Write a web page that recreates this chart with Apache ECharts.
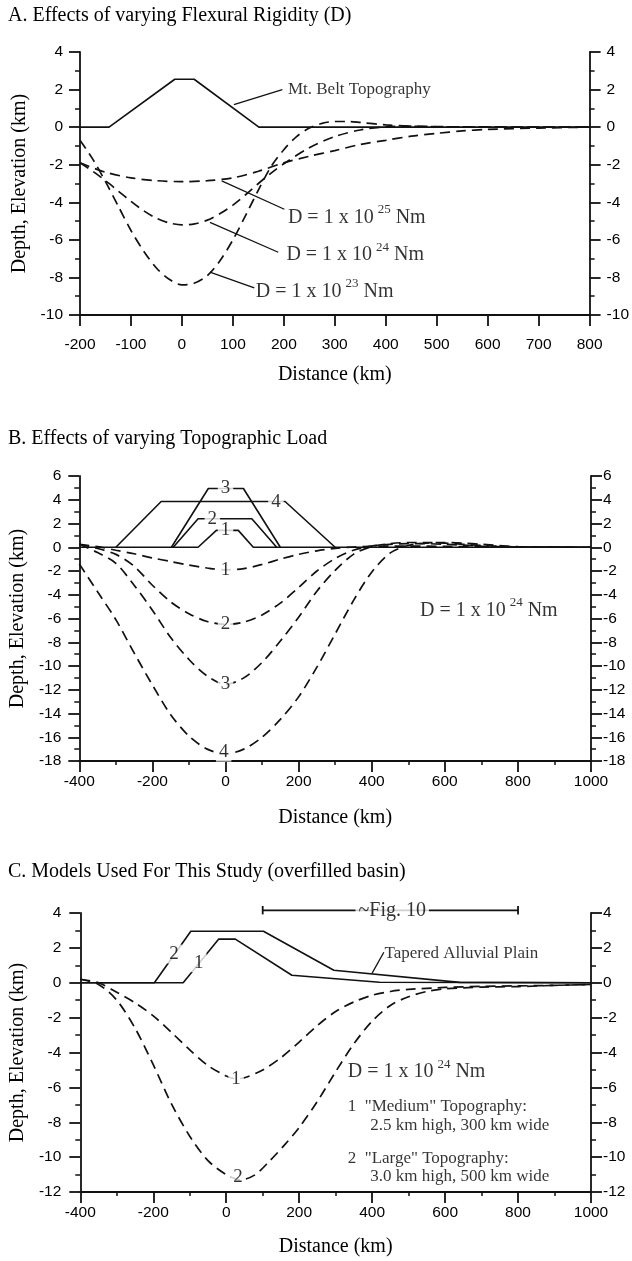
<!DOCTYPE html>
<html>
<head>
<meta charset="utf-8">
<title>Flexure models</title>
<style>
  * { margin: 0; padding: 0; }
  #chart-container { width: 632px; height: 1261px; background: #fff; }
</style>
</head>
<body>
<div id="chart-container"></div>
<script src="https://cdn.jsdelivr.net/npm/echarts@6/dist/echarts.min.js"></script>
<script>
// ---- panel A: flexural rigidity (x km, y km)
var topoA = [[-200, 0], [-143, 0], [-14, 2.55], [24, 2.55], [151, 0], [800, 0]];
var d25 = [[-200, -1.9], [-150, -2.4], [-100, -2.7], [-50, -2.85], [0, -2.9], [50, -2.85], [100, -2.7], [150, -2.35], [200, -1.9], [250, -1.55], [300, -1.25], [350, -0.92], [400, -0.7], [450, -0.48], [500, -0.33], [550, -0.2], [600, -0.12], [700, -0.05], [800, 0]];
var d24 = [[-200, -1.9], [-175, -2.35], [-150, -2.85], [-125, -3.4], [-100, -3.95], [-75, -4.45], [-50, -4.85], [-25, -5.1], [0, -5.2], [25, -5.15], [50, -4.95], [75, -4.6], [100, -4.15], [125, -3.6], [150, -3.0], [175, -2.45], [200, -1.95], [250, -1.1], [300, -0.5], [350, -0.15], [400, 0.02], [450, 0.05], [500, 0.03], [600, 0], [800, 0]];
var d23 = [[-200, -0.7], [-175, -1.7], [-150, -2.9], [-125, -4.2], [-100, -5.5], [-75, -6.6], [-50, -7.5], [-25, -8.1], [0, -8.4], [25, -8.3], [50, -7.9], [75, -7.1], [100, -6.0], [125, -4.7], [150, -3.35], [175, -2.1], [200, -1.2], [225, -0.5], [250, -0.05], [275, 0.2], [300, 0.3], [325, 0.3], [350, 0.25], [400, 0.12], [450, 0.05], [500, 0.02], [800, 0]];

// ---- panel B: topographic load
var load1 = [[-400, 0], [-75, 0], [-25, 1.42], [35, 1.42], [76, 0], [1000, 0]];
var load2 = [[-143, 0], [-75, 2.4], [72, 2.4], [140, 0]];
var load3 = [[-148, 0], [-47, 4.95], [49, 4.95], [150, 0]];
var load4 = [[-300, 0], [-176, 3.85], [163, 3.85], [300, 0]];
var defl1 = [[-400, 0.25], [-350, 0.05], [-300, -0.25], [-250, -0.55], [-200, -0.9], [-150, -1.2], [-100, -1.5], [-50, -1.75], [0, -1.9], [50, -1.8], [100, -1.45], [150, -1.0], [200, -0.6], [250, -0.3], [300, -0.1], [350, 0.02], [400, 0.08], [500, 0.1], [600, 0.07], [700, 0.03], [800, 0], [1000, 0]];
var defl2 = [[-400, 0.25], [-350, -0.1], [-300, -0.6], [-250, -1.6], [-200, -3.2], [-150, -4.6], [-100, -5.6], [-50, -6.25], [0, -6.5], [50, -6.3], [100, -5.7], [150, -4.7], [200, -3.4], [250, -2.0], [300, -0.95], [350, -0.25], [400, 0.1], [450, 0.25], [500, 0.3], [550, 0.3], [600, 0.25], [700, 0.1], [800, 0.02], [1000, 0]];
var defl3 = [[-400, 0.25], [-350, -0.45], [-300, -1.35], [-250, -3.2], [-200, -5.3], [-150, -7.6], [-100, -9.45], [-50, -10.85], [0, -11.55], [50, -11.0], [100, -9.7], [150, -7.9], [200, -5.9], [250, -3.7], [300, -1.95], [350, -0.6], [400, 0.05], [450, 0.3], [500, 0.4], [550, 0.4], [600, 0.35], [700, 0.15], [800, 0.03], [1000, 0]];
var defl4 = [[-400, -1.4], [-350, -3.75], [-300, -6.1], [-250, -8.9], [-200, -11.6], [-150, -14.1], [-100, -15.9], [-50, -17.0], [0, -17.4], [50, -17.0], [100, -16.0], [150, -14.5], [200, -12.6], [250, -10.1], [300, -7.3], [350, -4.5], [400, -2.1], [450, -0.5], [500, 0.15], [550, 0.35], [600, 0.4], [650, 0.35], [700, 0.25], [800, 0.05], [1000, 0]];

// ---- panel C: models used (overfilled basin)
var topoMed = [[-400, 0], [-118, 0], [-21, 2.5], [25, 2.5], [180, 0.43], [420, 0.03], [1000, 0]];
var topoLarge = [[-400, 0], [-197, 0], [-97, 2.95], [102, 2.95], [295, 0.72], [640, 0.02], [1000, 0]];
var deflMed = [[-400, 0.2], [-350, 0.0], [-300, -0.55], [-250, -1.15], [-200, -1.9], [-150, -2.85], [-100, -3.85], [-50, -4.75], [0, -5.35], [25, -5.5], [50, -5.45], [100, -5.0], [150, -4.3], [200, -3.4], [250, -2.45], [300, -1.65], [350, -1.1], [400, -0.72], [450, -0.5], [500, -0.38], [600, -0.27], [700, -0.21], [800, -0.18], [900, -0.15], [1000, -0.1]];
var deflLarge = [[-400, 0.2], [-350, -0.1], [-300, -1.0], [-250, -2.6], [-200, -4.7], [-150, -6.95], [-100, -8.8], [-50, -10.2], [0, -11.0], [40, -11.3], [80, -11.0], [120, -10.2], [160, -9.3], [200, -8.3], [250, -6.8], [300, -5.1], [350, -3.5], [400, -2.2], [450, -1.3], [500, -0.8], [550, -0.5], [600, -0.35], [700, -0.25], [800, -0.22], [900, -0.15], [1000, -0.1]];
var fig10 = [[100, 4.15], [800, 4.15]];

var SERIF = 'Liberation Serif';
var SANS = 'Liberation Sans';
var INK = '#111';

var dom = document.getElementById('chart-container');
var myChart = echarts.init(dom, null, { renderer: 'canvas' });

function plain(v) { return String(v); }

function xAx(g, min, max, step, minor, margin, gap) {
  return {
    type: 'value', gridIndex: g, min: min, max: max, interval: step,
    name: 'Distance (km)', nameLocation: 'middle', nameGap: gap,
    nameTextStyle: { fontFamily: SERIF, fontSize: 20, color: '#000' },
    axisLine: { show: true, onZero: false, lineStyle: { color: INK, width: 2 } },
    axisTick: { show: true, length: 11, lineStyle: { color: INK, width: 1.8 } },
    minorTick: { show: minor, splitNumber: 2, length: 4, lineStyle: { color: INK, width: 1.5 } },
    axisLabel: { margin: margin, fontFamily: SANS, fontSize: 15.5, color: '#000', formatter: plain },
    splitLine: { show: false }
  };
}

function yAx(g, min, max, pos, margin, gap) {
  var a = {
    type: 'value', gridIndex: g, min: min, max: max, interval: 2, position: pos,
    axisLine: { show: true, onZero: false, lineStyle: { color: INK, width: 1.8 } },
    axisTick: { show: true, length: 11, lineStyle: { color: INK, width: 1.8 } },
    minorTick: { show: true, splitNumber: 2, length: 5, lineStyle: { color: INK, width: 1.5 } },
    axisLabel: { margin: margin, fontFamily: SANS, fontSize: 15.5, color: '#000', formatter: plain },
    splitLine: { show: false }
  };
  if (pos === 'left') {
    a.name = 'Depth, Elevation (km)';
    a.nameLocation = 'middle';
    a.nameGap = gap;
    a.nameTextStyle = { fontFamily: SERIF, fontSize: 20, color: '#000' };
  }
  return a;
}

function solid(g, data, w) {
  return { type: 'line', xAxisIndex: g, yAxisIndex: g * 2, data: data, symbol: 'none',
    clip: false, silent: true, z: 3, lineStyle: { color: INK, width: w || 1.6 } };
}

function dashed(g, data) {
  return { type: 'line', xAxisIndex: g, yAxisIndex: g * 2, data: data, symbol: 'none',
    smooth: 0.3, silent: true, z: 2, lineStyle: { color: INK, width: 1.7, type: [10, 6] } };
}

var rich = {
  t: { fontFamily: SERIF, fontSize: 20, color: '#000', lineHeight: 28 },
  s: { fontFamily: SERIF, fontSize: 13, color: '#000', lineHeight: 28, verticalAlign: 'top', padding: [0, 0, 0, 4] }
};

function note(g, pt, text, size, pos, bg) {
  return {
    type: 'scatter', xAxisIndex: g, yAxisIndex: g * 2, data: [pt], symbolSize: 0,
    clip: false, silent: true, z: 6,
    itemStyle: { color: 'rgba(0,0,0,0)' },
    label: {
      show: true, position: pos || 'right', distance: 0,
      formatter: function () { return text; },
      fontFamily: SERIF, fontSize: size || 18, color: '#000',
      backgroundColor: bg ? '#fff' : 'transparent', padding: bg ? [0, 3] : 0,
      rich: rich
    }
  };
}

function rig(e) { return '{t|D = 1 x 10}{s|' + e + '}{t| Nm}'; }

var titleFont = { fontFamily: SERIF, fontSize: 20, fontWeight: 'normal', color: '#000' };

var option = {
  animation: false,
  backgroundColor: '#fff',
  title: [
    { text: 'A. Effects of varying Flexural Rigidity (D)', left: 8, top: 6, padding: 0, textStyle: titleFont },
    { text: 'B. Effects of varying Topographic Load', left: 8, top: 429, padding: 0, textStyle: titleFont },
    { text: 'C. Models Used For This Study (overfilled basin)', left: 8, top: 862, padding: 0, textStyle: titleFont }
  ],
  grid: [
    { left: 80, top: 52, width: 510, height: 263 },
    { left: 78, top: 476, width: 513, height: 285 },
    { left: 78, top: 913, width: 513, height: 279 }
  ],
  xAxis: [
    xAx(0, -200, 800, 100, false, 22, 50),
    xAx(1, -400, 1000, 200, true, 13, 47),
    xAx(2, -400, 1000, 200, true, 13, 45)
  ],
  yAxis: [
    yAx(0, -10, 4, 'left', 17, 46),
    yAx(0, -10, 4, 'right', 17),
    yAx(1, -18, 6, 'left', 18, 50),
    yAx(1, -18, 6, 'right', 12),
    yAx(2, -12, 4, 'left', 19, 50),
    yAx(2, -12, 4, 'right', 12)
  ],
  series: [
    // A
    solid(0, topoA),
    dashed(0, d25),
    dashed(0, d24),
    dashed(0, d23),
    solid(0, [[102, 1.2], [197, 2.0]], 1.3),
    solid(0, [[78, -2.86], [201, -4.37]], 1.3),
    solid(0, [[55, -5.07], [189, -6.66]], 1.3),
    solid(0, [[55, -7.72], [142, -8.56]], 1.3),
    note(0, [208, 2.0], 'Mt. Belt Topography', 17),
    note(0, [208, -4.8], rig(25)),
    note(0, [205, -6.8], rig(24)),
    note(0, [145, -8.75], rig(23)),
    // B
    solid(1, load1),
    solid(1, load2),
    solid(1, load3),
    solid(1, load4),
    dashed(1, defl1),
    dashed(1, defl2),
    dashed(1, defl3),
    dashed(1, defl4),
    note(1, [0, 4.95], '3', 19, 'inside', true),
    note(1, [138, 3.85], '4', 19, 'inside', true),
    note(1, [-36, 2.4], '2', 19, 'inside', true),
    note(1, [0, 1.42], '1', 19, 'inside', true),
    note(1, [0, -1.9], '1', 19, 'inside', true),
    note(1, [0, -6.5], '2', 19, 'inside', true),
    note(1, [0, -11.55], '3', 19, 'inside', true),
    note(1, [-5, -17.25], '4', 19, 'inside', true),
    note(1, [532, -5.32], rig(24)),
    // C
    solid(2, topoMed),
    solid(2, topoLarge),
    dashed(2, deflMed),
    dashed(2, deflLarge),
    solid(2, fig10, 1.8),
    solid(2, [[100, 3.92], [100, 4.4]], 1.8),
    solid(2, [[800, 3.92], [800, 4.4]], 1.8),
    note(2, [455, 4.15], '~Fig. 10', 20, 'inside', true),
    solid(2, [[400, 0.55], [432, 1.75]], 1.3),
    note(2, [434, 1.68], 'Tapered Alluvial Plain', 17),
    note(2, [-143, 1.65], '2', 19, 'inside', true),
    note(2, [-75, 1.15], '1', 19, 'inside', true),
    note(2, [27, -5.5], '1', 19, 'inside', true),
    note(2, [32, -11.15], '2', 19, 'inside', true),
    note(2, [333, -5.11], rig(24)),
    note(2, [333, -7.11], '1  "Medium" Topography:', 17),
    note(2, [395, -8.16], '2.5 km high, 300 km wide', 17),
    note(2, [333, -10.07], '2  "Large" Topography:', 17),
    note(2, [395, -11.12], '3.0 km high, 500 km wide', 17)
  ]
};

myChart.setOption(option);
window.addEventListener('resize', myChart.resize);
</script>
</body>
</html>
